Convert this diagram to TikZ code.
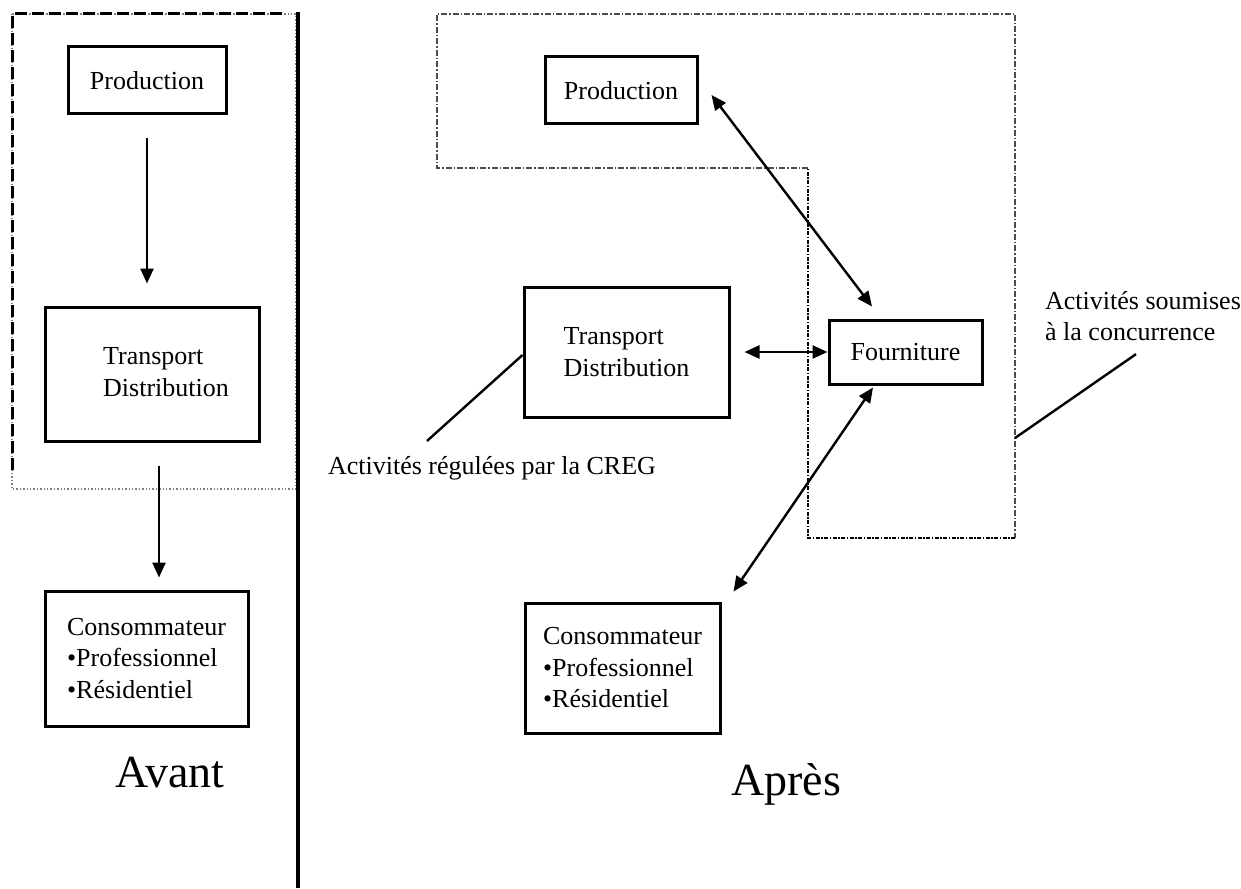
\documentclass[tikz,border=0pt]{standalone}
\usepackage{fontspec}
\setmainfont{Liberation Serif}
\usetikzlibrary{arrows.meta}

\tikzset{
	box/.style={draw, rectangle, line width=3pt, align=left, inner sep=0pt},
	lbl/.style={align=left, inner sep=0pt},
	fleche/.style={line width=2.4pt},
	titre/.style={inner sep=0pt, font=\fontsize{46}{54}\selectfont},
	>={Triangle[length=15pt, width=13pt]},
}

\begin{document}
\begin{tikzpicture}[x=1pt, y=-1pt, font=\fontsize{26}{31.5}\selectfont]
	\useasboundingbox (0,0) rectangle (1241,888);

	% Avant
	\draw [gray, dotted, line width=1.4pt] (12,14) rectangle (296,489);
	\draw [line width=3pt, dash pattern=on 12pt off 5pt] (12,470) -- (12,14) -- (284,14);
	\draw [line width=3.5pt] (298,12) -- (298,888);

	\node [box, minimum width=158, minimum height=67] (prodA) at (147,80.5) {Production};
	\node [box, minimum width=214, minimum height=134] (tdA) at (152,374) {};
	\node [lbl] (tdAtxt) at (166,372) {Transport\\Distribution};
	\node [box, minimum width=203, minimum height=135] (consA) at (146.5,658.5) {Consommateur\\•Professionnel\\•Résidentiel};
	\node [titre] (avant) at (170,773) {Avant};

	\draw [->, fleche, shorten <=22pt, shorten >=22pt] (prodA.south) -- (prodA.south |- tdA.north);
	\draw [->, fleche, shorten <=23pt, shorten >=12pt] ([xshift=7pt]tdA.south) -- ([xshift=7pt]tdA.south |- consA.north);

	% Apres
	\draw [gray!60!black, line width=1.3pt, dash pattern=on 6pt off 2pt on 1.5pt off 2pt] (808,168) -- (437,168) -- (437,14) -- (1015,14) -- (1015,538);
	\draw [line width=2.6pt, dash pattern=on 4pt off 1.5pt on 1.5pt off 1.5pt] (1015,538) -- (808,538) -- (808,168);

	\node [box, minimum width=152, minimum height=67] (prodB) at (621,90.5) {Production};
	\node [box, minimum width=205, minimum height=130] (tdB) at (626.5,352) {Transport\\Distribution};
	\node [box, minimum width=153, minimum height=64] (fourn) at (905.5,352) {Fourniture};
	\node [box, minimum width=195, minimum height=130] (consB) at (622.5,668) {Consommateur\\•Professionnel\\•Résidentiel};
	\node [titre] (apres) at (786,784) {Après};

	\draw [<->, fleche] ([xshift=13pt, yshift=-4.5pt]prodB.east) -- ([xshift=-33.5pt, yshift=12pt]fourn.north);
	\draw [<->, fleche] ([xshift=14pt]tdB.east) -- (fourn.west);
	\draw [<->, fleche] ([xshift=-32.5pt, yshift=-2pt]fourn.south) -- ([xshift=12pt, yshift=10pt]consB.north east);

	% annotations
	\node [lbl] (creg) at (492,468) {Activités régulées par la CREG};
	\draw [fleche] ([xshift=-65pt, yshift=15pt]creg.north) -- ([yshift=-3pt]tdB.west);

	\node [lbl] (conc) at (1143,316) {Activités soumises\\à la concurrence};
	\coordinate (bordConc) at (1015,438);
	\draw [fleche] (bordConc) -- ([xshift=-7pt, yshift=-13pt]conc.south);
\end{tikzpicture}
\end{document}
